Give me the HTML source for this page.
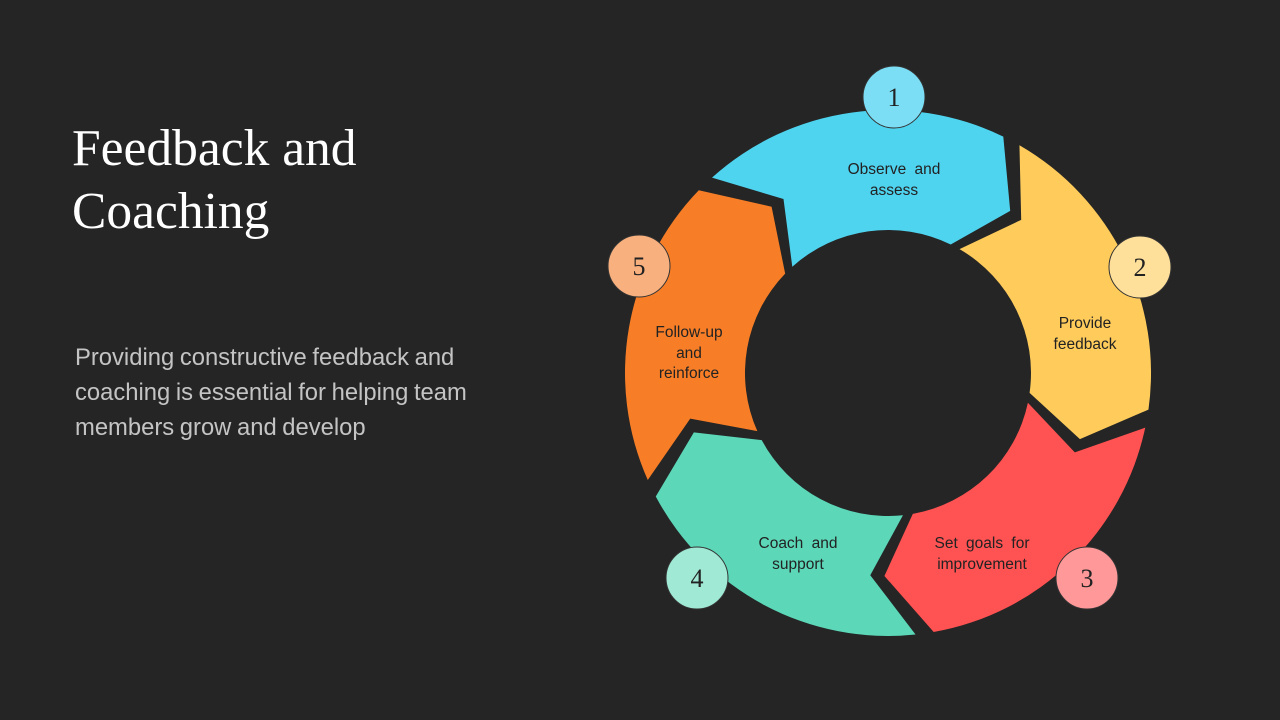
<!DOCTYPE html>
<html><head><meta charset="utf-8"><style>
html,body{margin:0;padding:0;background:#252525;}
body{width:1280px;height:720px;position:relative;overflow:hidden;}
.t{position:absolute;left:72px;top:117px;font-family:"Liberation Serif",serif;font-size:51.5px;line-height:63px;color:#fff;}
.b{position:absolute;left:75px;top:340px;font-family:"Liberation Sans",sans-serif;font-size:23.8px;line-height:35px;color:#c4c4c4;width:430px;word-spacing:-1px;}
</style></head><body>
<div class="t">Feedback and<br>Coaching</div>
<div class="b">Providing constructive feedback and coaching is essential for helping team members grow and develop</div>
<svg width="1280" height="720" style="position:absolute;left:0;top:0">
<defs><path id="seg" d="M712,177.6 A263,263 0 0 1 1003.3,136.6 L1010.2,210.9 L950.7,244.5 A143,143 0 0 0 792.3,266.7 L783.5,199 Z"/></defs>
<use href="#seg" fill="#4FD4F0"/>
<use href="#seg" fill="#FFCC5C" transform="rotate(72 888 373)"/>
<use href="#seg" fill="#FF5252" transform="rotate(144 888 373)"/>
<use href="#seg" fill="#5CD8B9" transform="rotate(216 888 373)"/>
<use href="#seg" fill="#F77E27" transform="rotate(288 888 373)"/>
<g stroke="#333" stroke-width="1">
<circle cx="894" cy="97" r="31" fill="#7CDEF5"/>
<circle cx="1140" cy="267" r="31" fill="#FFE09B"/>
<circle cx="1087" cy="578" r="31" fill="#FF9898"/>
<circle cx="697" cy="578" r="31" fill="#A0E9D5"/>
<circle cx="639" cy="266" r="31" fill="#F8B07F"/>
</g>
<g font-family="Liberation Serif,serif" font-size="26" fill="#222" text-anchor="middle">
<text x="894" y="106">1</text><text x="1140" y="276">2</text><text x="1087" y="587">3</text><text x="697" y="587">4</text><text x="639" y="275">5</text>
</g>
<g font-family="Liberation Sans,sans-serif" font-size="15.5" fill="#222" text-anchor="middle" word-spacing="4">
<text x="894" y="174">Observe and</text><text x="894" y="195">assess</text>
<text x="1085" y="328">Provide</text><text x="1085" y="349">feedback</text>
<text x="982" y="548">Set goals for</text><text x="982" y="569">improvement</text>
<text x="798" y="548">Coach and</text><text x="798" y="569">support</text>
<text x="689" y="337">Follow-up</text><text x="689" y="358">and</text><text x="689" y="378">reinforce</text>
</g>
</svg>
</body></html>
